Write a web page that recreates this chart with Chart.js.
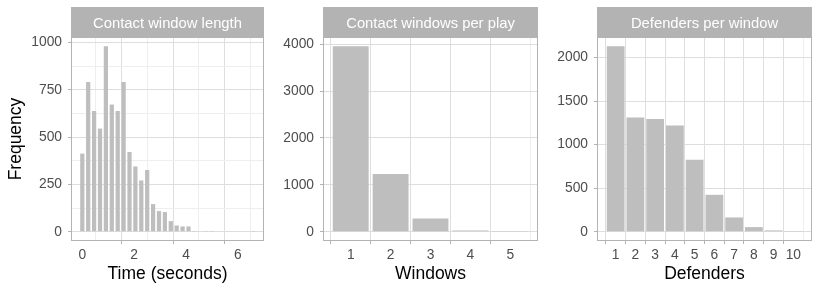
<!DOCTYPE html>
<html><head><meta charset="utf-8">
<script src="https://cdn.jsdelivr.net/npm/chart.js@4"></script>
<style>
html,body{margin:0;padding:0;background:#fff;}
#wrap{position:relative;width:822px;height:294px;overflow:hidden;background:#fff}
canvas{position:absolute;top:0}
</style></head><body>
<div id="wrap">
<canvas id="c1" width="270" height="294" style="left:0px"></canvas>
<canvas id="c2" width="275" height="294" style="left:270px"></canvas>
<canvas id="c3" width="277" height="294" style="left:545px"></canvas>
</div>
<script>
// ---- data ----
const lengthBinCenters = [0, 0.227, 0.455, 0.683, 0.910, 1.138, 1.366, 1.593, 1.821, 2.048,
  2.276, 2.503, 2.731, 2.959, 3.186, 3.414, 3.641, 3.869, 4.097, 4.324,
  4.552, 4.779, 5.007, 5.234, 5.462, 5.690, 5.917, 6.145, 6.372, 6.600];
const lengthCounts = [413, 791, 638, 545, 980, 672, 638, 791, 421, 345,
  271, 326, 146, 109, 104, 56, 33, 28, 28, 1,
  3, 1, 1, 0, 0, 0, 0, 0, 0, 1];
const lengthXTicks = [0, 2, 4, 6];
const lengthXMinor = [1, 3, 5, 7];
const lengthYTicks = [0, 250, 500, 750, 1000];
const lengthYMinor = [125, 375, 625, 875];

const windowCategories = [1, 2, 3, 4, 5];
const windowCounts = [3957, 1234, 283, 28, 5];
const windowYTicks = [0, 1000, 2000, 3000, 4000];

const defenderCategories = [1, 2, 3, 4, 5, 6, 7, 8, 9, 10];
const defenderCounts = [2130, 1313, 1294, 1221, 828, 424, 164, 53, 15, 3];
const defenderYTicks = [0, 500, 1000, 1500, 2000];

const stripTitles = ["Contact window length", "Contact windows per play", "Defenders per window"];
const xTitles = ["Time (seconds)", "Windows", "Defenders"];
const yTitle = "Frequency";

// ---- drawing ----
const FAMILY = '"Liberation Sans", Arial, Helvetica, sans-serif';
const stripPlugin = {
  id: 'strip',
  beforeDraw(chart, args, opts) {
    const {ctx, chartArea: a} = chart;
    ctx.save();
    ctx.fillStyle = '#b3b3b3';
    ctx.fillRect(a.left, a.top - 30, a.right - a.left, 30);
    ctx.fillStyle = '#ffffff';
    ctx.font = '14.8px ' + FAMILY;
    ctx.textAlign = 'center';
    ctx.textBaseline = 'alphabetic';
    ctx.fillText(opts.text, (a.left + a.right) / 2, a.top - 9.5);
    ctx.restore();
  },
  afterDraw(chart) {
    const {ctx, chartArea: a} = chart;
    ctx.save();
    ctx.strokeStyle = '#b3b3b3';
    ctx.lineWidth = 1;
    ctx.strokeRect(Math.round(a.left) + 0.5, Math.round(a.top) + 0.5,
      Math.round(a.right - a.left) - 1, Math.round(a.bottom - a.top) - 1);
    ctx.restore();
  }
};

function makeChart(id, o) {
  const maxY = Math.max(...o.ys);
  const xAll = [...o.xMajor, ...(o.xMinor || [])].sort((a, b) => a - b);
  const yAll = [...o.yMajor, ...(o.yMinor || [])].sort((a, b) => a - b);
  const isMajX = v => o.xMajor.includes(v);
  const isMajY = v => o.yMajor.includes(v);
  return new Chart(document.getElementById(id), {
    type: 'bar',
    data: {
      datasets: [{
        data: o.xs.map((x, i) => ({x: x, y: o.ys[i]})),
        backgroundColor: '#bebebe',
        borderWidth: 0,
        barPercentage: o.barPct,
        categoryPercentage: 1
      }]
    },
    plugins: [stripPlugin],
    options: {
      responsive: false,
      animation: false,
      devicePixelRatio: 1,
      layout: {padding: {left: 0, right: o.padRight, top: 37, bottom: 0}},
      plugins: {legend: {display: false}, tooltip: {enabled: false}, strip: {text: o.strip}},
      scales: {
        x: {
          type: 'linear', min: o.xMin, max: o.xMax, offset: false,
          afterBuildTicks: s => { s.ticks = xAll.map(v => ({value: v})); },
          afterFit: s => { s.height = 53; },
          ticks: {
            autoSkip: false, maxRotation: 0, padding: 3, color: '#4d4d4d',
            font: {size: 13.8, family: FAMILY},
            callback: v => isMajX(v) ? String(v) : ''
          },
          grid: {
            color: c => (c.tick && isMajX(c.tick.value)) ? '#dedede' : '#eeeeee',
            lineWidth: 1, tickLength: 3,
            tickColor: c => (c.tick && isMajX(c.tick.value)) ? '#b3b3b3' : 'rgba(0,0,0,0)'
          },
          border: {display: false},
          title: {display: true, text: o.xTitle, color: '#000',
            font: {size: 17.5, family: FAMILY, lineHeight: 1}, padding: {top: 0, bottom: 11}}
        },
        y: {
          type: 'linear', min: -0.05 * maxY, max: 1.05 * maxY,
          afterBuildTicks: s => { s.ticks = yAll.map(v => ({value: v})); },
          afterFit: s => { s.width = o.yWidth; },
          ticks: {
            autoSkip: false, padding: 6, color: '#4d4d4d',
            font: {size: 13.8, family: FAMILY},
            callback: v => isMajY(v) ? String(v) : ''
          },
          grid: {
            color: c => (c.tick && isMajY(c.tick.value)) ? '#dedede' : '#eeeeee',
            lineWidth: 1, tickLength: 3,
            tickColor: c => (c.tick && isMajY(c.tick.value)) ? '#b3b3b3' : 'rgba(0,0,0,0)'
          },
          border: {display: false},
          title: {display: !!o.yTitle, text: o.yTitle || '', color: '#000',
            font: {size: 17.5, family: FAMILY, lineHeight: 1}, padding: {top: 7, bottom: 0}}
        }
      }
    }
  });
}

makeChart('c1', {
  xs: lengthBinCenters, ys: lengthCounts, xMin: -0.436, xMax: 7.01,
  xMajor: lengthXTicks, xMinor: lengthXMinor, yMajor: lengthYTicks, yMinor: lengthYMinor,
  barPct: 0.72, yWidth: 71, padRight: 6, strip: stripTitles[0], xTitle: xTitles[0], yTitle: yTitle
});
makeChart('c2', {
  xs: windowCategories, ys: windowCounts, xMin: 0.305, xMax: 5.695,
  xMajor: windowCategories, yMajor: windowYTicks,
  barPct: 0.9, yWidth: 53, padRight: 7, strip: stripTitles[1], xTitle: xTitles[1]
});
makeChart('c3', {
  xs: defenderCategories, ys: defenderCounts, xMin: 0.055, xMax: 10.945,
  xMajor: defenderCategories, yMajor: defenderYTicks,
  barPct: 0.9, yWidth: 52, padRight: 10, strip: stripTitles[2], xTitle: xTitles[2]
});
</script>
</body></html>
